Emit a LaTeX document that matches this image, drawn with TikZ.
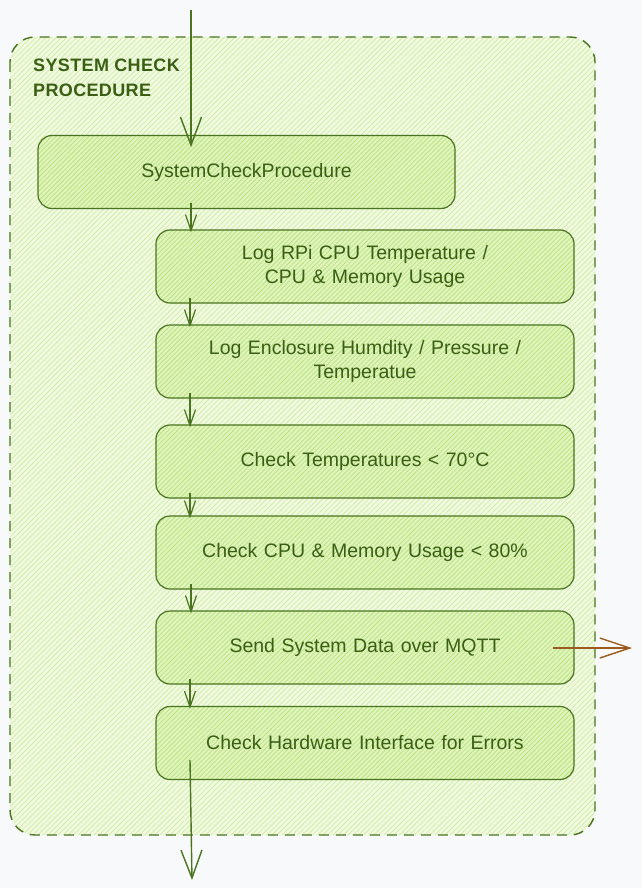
\documentclass[tikz,border=0pt]{standalone}
\usepackage{fontspec}
\setmainfont{Liberation Sans}
\usetikzlibrary{patterns.meta,arrows.meta,calc}
\definecolor{bg}{HTML}{F8F9FA}
\definecolor{stroke}{HTML}{4A7420}
\definecolor{txt}{HTML}{3A5F14}
\definecolor{grpfill}{HTML}{F1F9E4}
\definecolor{hatch}{HTML}{D2F0A2}
\definecolor{boxfill}{HTML}{E0F4BE}
\definecolor{boxhatch}{HTML}{BAE27A}
\definecolor{brownarr}{HTML}{9C5A1C}
\tikzset{
  grp/.style={draw=stroke, line width=1.4pt, dash pattern=on 10pt off 7pt,
    rounded corners=25pt,
    preaction={fill=grpfill},
    pattern={Lines[angle=45,distance=3.6pt,line width=0.8pt]}, pattern color=hatch},
  stepbox/.style={draw=stroke, line width=1.2pt, rounded corners=14pt,
    minimum height=73pt, text width=400pt, align=center, text=txt,
    font=\fontsize{19.5}{24}\selectfont,
    preaction={fill=boxfill},
    pattern={Lines[angle=45,distance=3.3pt,line width=0.8pt]}, pattern color=boxhatch},
  arr/.style={draw=stroke, line width=1.2pt, -{Straight Barb[length=16pt,width=11pt,line width=1.2pt]}},
  bigarr/.style={draw=stroke, line width=1.4pt, -{Straight Barb[length=28pt,width=21pt,line width=1.4pt]}},
  outarr/.style={draw=brownarr, line width=1.4pt, -{Straight Barb[length=30pt,width=20pt,line width=1.4pt]}},
}
\begin{document}
\begin{tikzpicture}[x=1pt,y=-1pt]
\path[fill=bg] (0,0) rectangle (642,888);
\useasboundingbox (0,0) rectangle (642,888);

% group
\path[grp] (10,37) rectangle (595,835);
\node[anchor=north west, text=txt, align=left, inner sep=0pt,
  font=\fontsize{18}{25}\selectfont\bfseries\addfontfeatures{LetterSpace=2}]
  (title) at (33,58.5) {SYSTEM CHECK\\PROCEDURE};

% boxes
\node[stepbox, minimum width=417pt] (b1) at (246.5,172) {SystemCheckProcedure};
\node[stepbox, minimum width=418pt] (b2) at (365,266.5) {Log RPi CPU Temperature /\\CPU \& Memory Usage};
\node[stepbox, minimum width=418pt] (b3) at (365,361.5) {Log Enclosure Humdity / Pressure /\\Temperatue};
\node[stepbox, minimum width=418pt] (b4) at (365,461.5) {Check Temperatures < 70°C};
\node[stepbox, minimum width=418pt] (b5) at (365,552.5) {Check CPU \& Memory Usage < 80\%};
\node[stepbox, minimum width=418pt] (b6) at (365,647.5) {Send System Data over MQTT};
\node[stepbox, minimum width=418pt] (b7) at (365,743) {Check Hardware Interface for Errors};

% connector columns
\coordinate (xa) at (191,0);
\coordinate (xb) at (190,0);
\coordinate (in) at (191,10);
\coordinate (out) at (192,880);
\coordinate (mq) at (632,648);
\coordinate (mqs) at (553,648);

\draw[bigarr] (in) -- ($(b1.north -| in)+(0,12)$);
\draw[arr] ($(b1.south -| xa)+(0,-6)$) -- ($(b2.north -| xa)+(0,3)$);
\draw[arr] ($(b2.south -| xb)+(0,-6)$) -- ($(b3.north -| xb)+(0,3)$);
\draw[arr] ($(b3.south -| xb)+(0,-6)$) -- ($(b4.north -| xb)+(0,3)$);
\draw[arr] ($(b4.south -| xb)+(0,-6)$) -- ($(b5.north -| xb)+(0,3)$);
\draw[arr] ($(b5.south -| xa)+(0,-6)$) -- ($(b6.north -| xa)+(0,3)$);
\draw[arr] ($(b6.south -| xb)+(0,-6)$) -- ($(b7.north -| xb)+(0,3)$);
\draw[bigarr] ($(b7.center -| xb)+(0,17)$) -- (out);
\draw[outarr] (mqs) -- (mq);
\end{tikzpicture}
\end{document}
